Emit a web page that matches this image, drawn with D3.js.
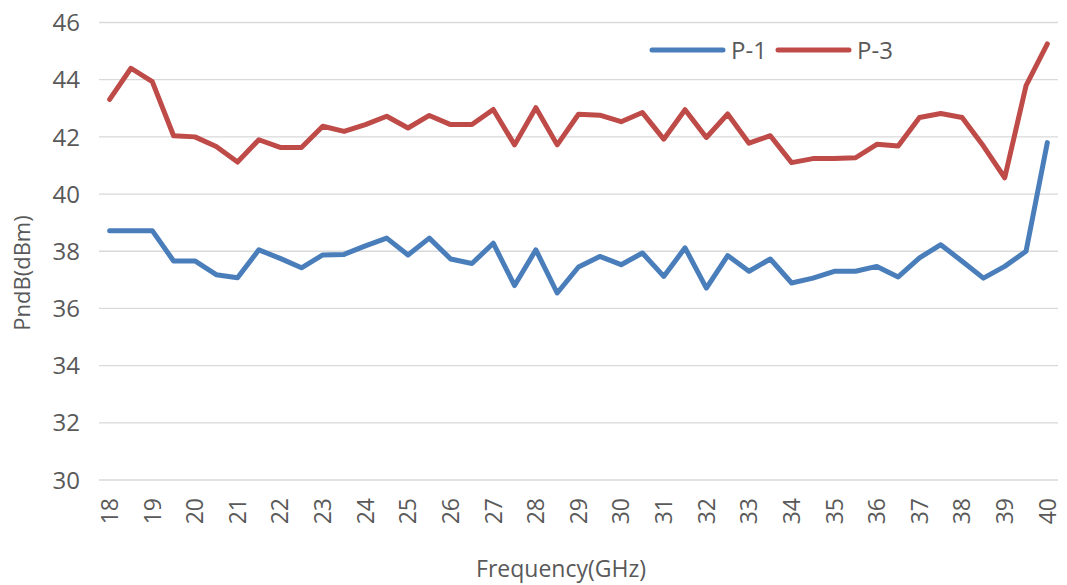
<!DOCTYPE html>
<html>
<head>
<meta charset="utf-8">
<script src="https://cdn.jsdelivr.net/npm/d3@7"></script>
<style>
  html, body { margin: 0; padding: 0; background: #fff; }
  svg { display: block; }
  text { font-family: "Open Sans", sans-serif; fill: #595959; }
</style>
</head>
<body>
<svg id="chart" width="1067" height="585"></svg>
<script>
const categories = [18,18.5,19,19.5,20,20.5,21,21.5,22,22.5,23,23.5,24,24.5,25,25.5,26,26.5,27,27.5,28,28.5,29,29.5,30,30.5,31,31.5,32,32.5,33,33.5,34,34.5,35,35.5,36,36.5,37,37.5,38,38.5,39,39.5,40];
const p1 = [38.72,38.72,38.72,37.66,37.66,37.18,37.07,38.05,37.75,37.42,37.87,37.89,38.19,38.46,37.87,38.46,37.73,37.57,38.28,36.80,38.05,36.54,37.45,37.82,37.53,37.94,37.12,38.12,36.71,37.85,37.30,37.73,36.89,37.06,37.30,37.30,37.47,37.10,37.77,38.23,37.65,37.06,37.47,38.00,41.80];
const p3 = [43.31,44.40,43.93,42.04,42.00,41.66,41.12,41.90,41.63,41.63,42.37,42.19,42.43,42.72,42.31,42.75,42.43,42.43,42.96,41.72,43.02,41.72,42.79,42.76,42.53,42.85,41.92,42.95,41.98,42.80,41.78,42.04,41.10,41.24,41.24,41.27,41.74,41.68,42.68,42.82,42.68,41.68,40.57,43.79,45.25];
const seriesNames = ["P-1", "P-3"];
const seriesColors = ["#4A7EBB", "#BE4B48"];
const yTicks = [30,32,34,36,38,40,42,44,46];
const xTickLabels = [18,19,20,21,22,23,24,25,26,27,28,29,30,31,32,33,34,35,36,37,38,39,40];

const svg = d3.select("#chart");
const plotLeft = 99, plotRight = 1058, plotTop = 22.5, plotBottom = 480;

const x = d3.scalePoint().domain(categories).range([plotLeft, plotRight]).padding(0.5);
const y = d3.scaleLinear().domain([30, 46]).range([plotBottom, plotTop]);

// gridlines
svg.append("g").selectAll("line").data(yTicks).join("line")
  .attr("x1", plotLeft).attr("x2", plotRight)
  .attr("y1", d => y(d)).attr("y2", d => y(d))
  .attr("stroke", "#d9d9d9").attr("stroke-width", 1.3);

// y labels
svg.append("g").selectAll("text").data(yTicks).join("text")
  .attr("x", 80).attr("y", d => y(d)).attr("dy", "0.36em")
  .attr("text-anchor", "end").attr("font-size", 24)
  .text(d => d);

// x labels
svg.append("g").selectAll("text").data(xTickLabels).join("text")
  .attr("transform", d => `translate(${x(d)},498) rotate(-90)`)
  .attr("dy", "0.36em")
  .attr("text-anchor", "end").attr("font-size", 23)
  .text(d => d);

// lines
const line = d3.line().x((d, i) => x(categories[i])).y(d => y(d));
[p1, p3].forEach((s, k) => {
  svg.append("path").datum(s)
    .attr("d", line)
    .attr("fill", "none")
    .attr("stroke", seriesColors[k])
    .attr("stroke-width", 5)
    .attr("stroke-linejoin", "round")
    .attr("stroke-linecap", "round");
});

// legend
const legendX = [652, 778];
seriesNames.forEach((n, k) => {
  svg.append("line")
    .attr("x1", legendX[k]).attr("x2", legendX[k] + 71)
    .attr("y1", 50).attr("y2", 50)
    .attr("stroke", seriesColors[k]).attr("stroke-width", 5)
    .attr("stroke-linecap", "round");
  svg.append("text")
    .attr("x", legendX[k] + 79).attr("y", 50).attr("dy", "0.36em")
    .attr("font-size", 24)
    .text(n);
});

// axis titles
svg.append("text")
  .attr("x", 561).attr("y", 577)
  .attr("text-anchor", "middle").attr("font-size", 23)
  .text("Frequency(GHz)");
svg.append("text")
  .attr("transform", "translate(22,273) rotate(-90)")
  .attr("dy", "0.36em")
  .attr("text-anchor", "middle").attr("font-size", 22)
  .text("PndB(dBm)");
</script>
</body>
</html>
